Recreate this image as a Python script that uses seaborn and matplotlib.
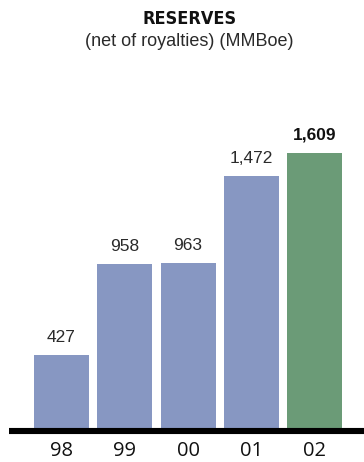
import matplotlib
matplotlib.use("Agg")
import matplotlib.pyplot as plt
from matplotlib.lines import Line2D
import seaborn as sns
import pandas as pd

years = ["98", "99", "00", "01", "02"]
reserves = [427, 958, 963, 1472, 1609]
value_labels = ["427", "958", "963", "1,472", "1,609"]
bar_colors = ["#8797c2", "#8797c2", "#8797c2", "#8797c2", "#6b9b77"]

df = pd.DataFrame({"year": years, "reserves": reserves})

sns.set_style("white")
plt.rcParams["font.family"] = ["Open Sans", "DejaVu Sans"]

W, H = 364, 462
fig = plt.figure(figsize=(W / 100, H / 100), dpi=100)

# axes box in pixel terms: x 9..364, y 60..428 (top-down)
ax = fig.add_axes([9 / W, (H - 428) / H, (364 - 9) / W, (428 - 60) / H])

sns.barplot(data=df, x="year", y="reserves", hue="year", palette=bar_colors,
            legend=False, width=0.87, saturation=1, linewidth=0,
            edgecolor="none", ax=ax)

ax.set_xlim(-0.83, 4.78)
ax.set_ylim(0, 1609 * 368 / 275)
for s in ax.spines.values():
    s.set_visible(False)
ax.set_yticks([])
ax.set_xlabel("")
ax.set_ylabel("")
ax.tick_params(axis="x", length=0, pad=9, labelsize=14.5, labelcolor="#111111")

for i, (v, lab) in enumerate(zip(reserves, value_labels)):
    last = i == len(reserves) - 1
    ax.annotate(lab, (i, v), xytext=(0, 7.5), textcoords="offset points",
                ha="center", va="bottom", fontsize=12.5,
                family=["Liberation Sans", "DejaVu Sans"],
                fontweight="bold" if last else "normal",
                color="#111111" if last else "#2a2a2a")

# heavy baseline under the bars
fig.add_artist(Line2D([9 / W, 1.0], [(H - 431) / H] * 2, color="black",
                      linewidth=4.4, solid_capstyle="butt"))

fig.text(190 / W, 1 - 19 / H, "RESERVES", ha="center", va="center",
         fontsize=13, fontweight="bold", fontstretch="condensed",
         family=["DejaVu Sans"], color="#111111")
fig.text(189 / W, 1 - 42 / H, "(net of royalties) (MMBoe)", ha="center",
         va="center", fontsize=13, color="#2a2a2a",
         family=["Liberation Sans", "DejaVu Sans"])

fig.savefig("out.png", dpi=100)
